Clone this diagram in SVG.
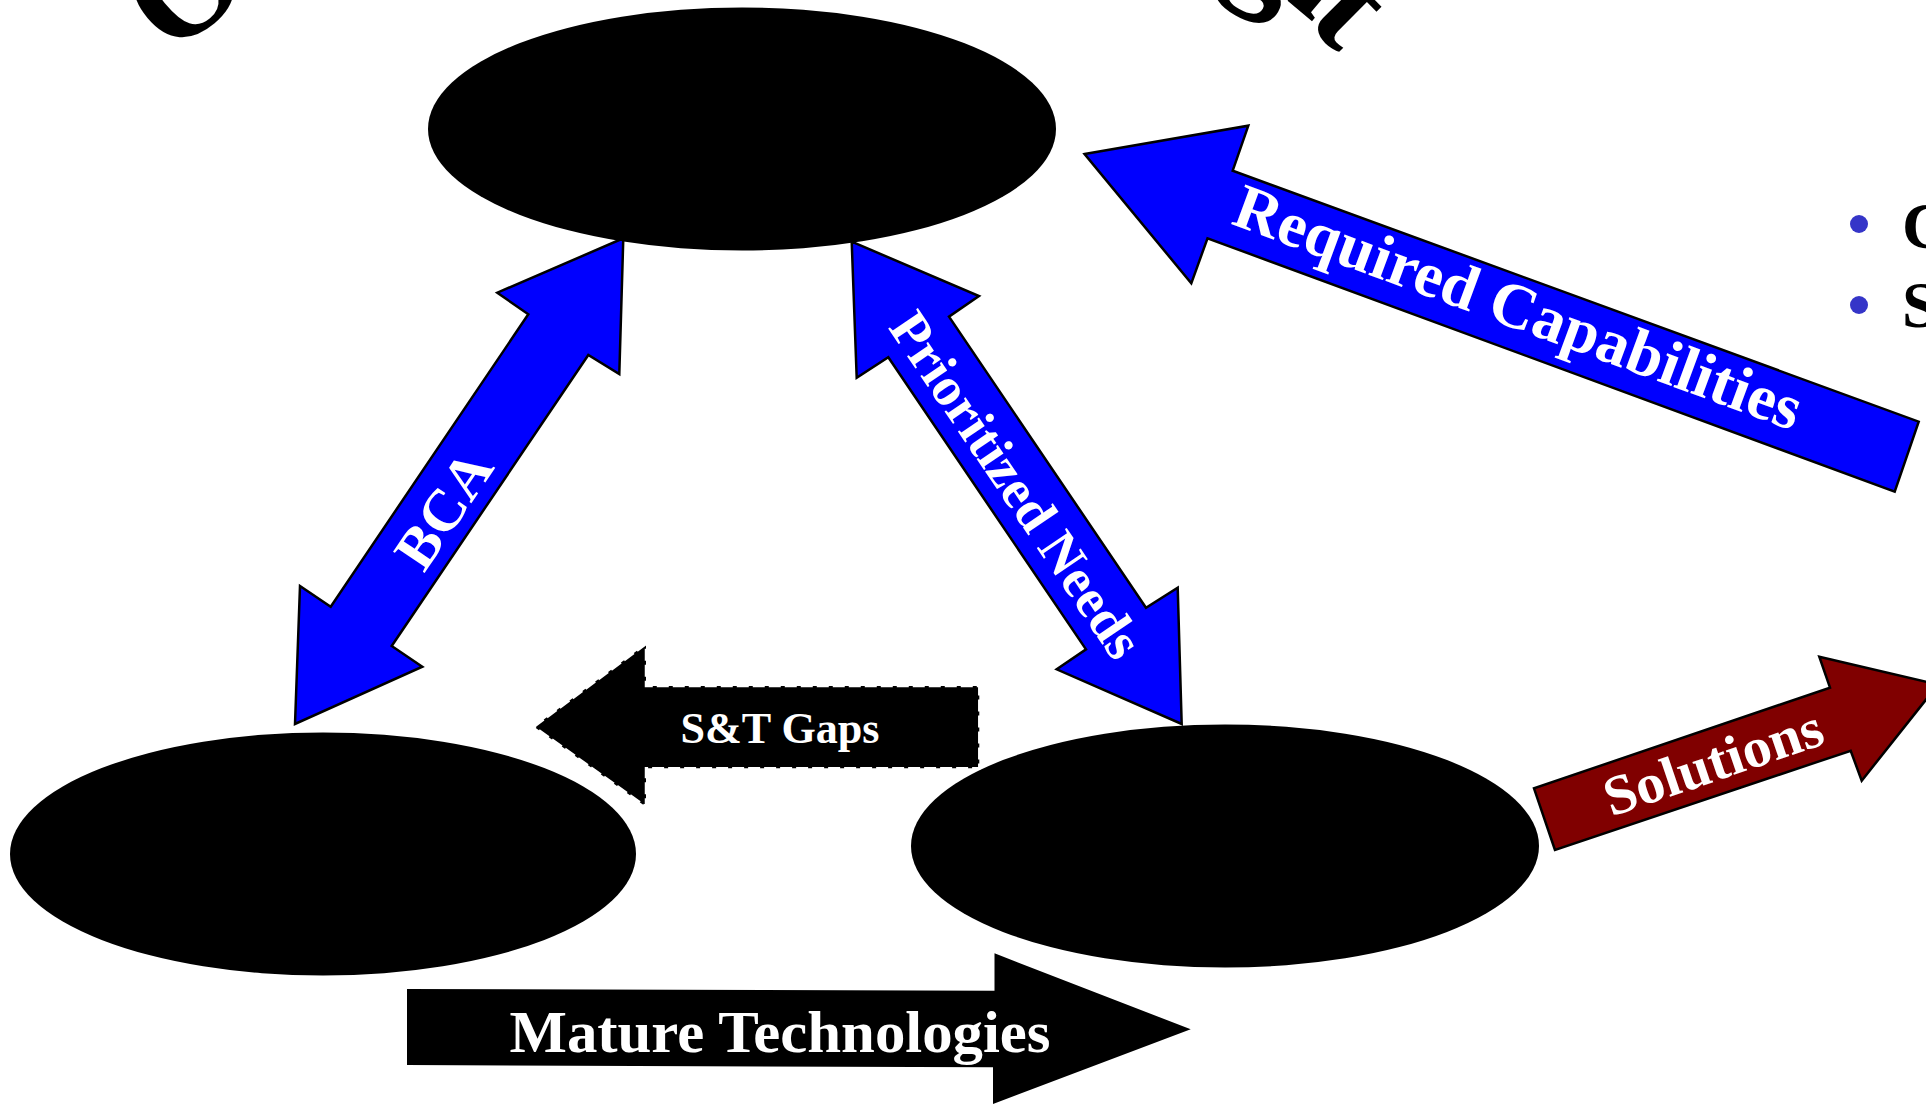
<svg xmlns="http://www.w3.org/2000/svg" width="1926" height="1110" viewBox="0 0 1926 1110">
  <style>
    .node { fill: #000000; }
    .blue { fill: #0000ff; stroke: #000000; stroke-width: 2.5; stroke-linejoin: miter; }
    .red { fill: #800000; stroke: #000000; stroke-width: 2.5; }
    .gap { fill: #000000; stroke: #ffffff; stroke-width: 2.5; stroke-dasharray: 12 4; }
    .solid { fill: #000000; }
    .lbl { font-family: "Liberation Serif", "Times New Roman", serif; font-weight: bold; fill: #ffffff; text-anchor: middle; }
    .title { font-family: "Liberation Serif", "Times New Roman", serif; font-weight: bold; fill: #000000; }
    .bullet { fill: #3535c8; }
  </style>

  <rect width="1926" height="1110" fill="#ffffff"/>

  <!-- arched heading, only the lower edge of its end letters falls inside the page -->
  <g id="heading">
    <text class="title" font-size="140" text-anchor="middle" transform="translate(182,-15) rotate(-40)" y="49">O</text>
    <text class="title" font-size="140" transform="translate(1222,-28) rotate(30)">g</text>
    <text class="title" font-size="140" transform="translate(1254,-27.5) rotate(40)">h</text>
    <text class="title" font-size="140" text-anchor="end" transform="translate(1338,54) rotate(45)">t</text>
  </g>

  <!-- side bullets, clipped by the right edge -->
  <g id="bullets">
    <circle class="bullet" cx="1859" cy="224" r="9"/>
    <text class="title" font-size="65" x="1902" y="248">C</text>
    <circle class="bullet" cx="1859" cy="305" r="9"/>
    <text class="title" font-size="65" x="1902" y="327">S</text>
  </g>

  <!-- nodes -->
  <g id="node-top">
    <ellipse class="node" cx="742" cy="129" rx="314" ry="121.5"/>
  </g>
  <g id="node-left">
    <ellipse class="node" cx="323" cy="854" rx="313" ry="121.5"/>
  </g>
  <g id="node-right">
    <ellipse class="node" cx="1225" cy="846" rx="314" ry="121.5"/>
  </g>

  <!-- connectors -->
  <g id="connectors">
    <g id="bca">
      <polygon class="blue" points="623.3,238.3 619.3,374 588.3,355 391.7,646 422.3,666.7 295,724 300,586 330.7,606.7 528.3,314.3 497.3,292.7"/>
      <text class="lbl" font-size="58" textLength="128" lengthAdjust="spacingAndGlyphs" transform="translate(444,510) rotate(-56)" y="19">BCA</text>
    </g>
    <g id="prioritized-needs">
      <polygon class="blue" points="851.7,241.7 979,296 949,316.7 1146,607.7 1177.7,587.7 1181.7,724 1056.7,669.3 1086,649.3 888.3,357.3 856.7,377.7"/>
      <text class="lbl" font-size="55" textLength="405" lengthAdjust="spacingAndGlyphs" transform="translate(1016,485) rotate(55.9)" y="18">Prioritized Needs</text>
    </g>
    <g id="required-capabilities">
      <polygon class="blue" points="1084.6,154 1248.3,125.7 1232.7,170.7 1918.7,421.7 1894.7,491.7 1207.5,238.3 1191.3,283.3"/>
      <text class="lbl" font-size="64" textLength="600" lengthAdjust="spacingAndGlyphs" transform="translate(1518.5,307.5) rotate(20.2)" y="21">Required Capabilities</text>
    </g>
    <g id="st-gaps">
      <polygon class="gap" points="534,726.7 646,644 646,686 979.3,686 979.3,768.3 646,768.3 646,806.7"/>
      <text class="lbl" font-size="44" textLength="199" lengthAdjust="spacingAndGlyphs" x="780" y="743">S&amp;T Gaps</text>
    </g>
    <g id="solutions">
      <polygon class="red" points="1555,850 1534,788.3 1830,687.7 1819.3,656.7 1938,684.5 1861.7,780.7 1850.7,750.7"/>
      <text class="lbl" font-size="56" textLength="228" lengthAdjust="spacingAndGlyphs" transform="translate(1713,762) rotate(-18.8)" y="19">Solutions</text>
    </g>
    <g id="mature-technologies">
      <polygon class="solid" points="407,989 994.5,990.7 994.5,953.3 1190.7,1029.3 993,1104 993,1067.3 407,1065"/>
      <text class="lbl" font-size="60" textLength="541" lengthAdjust="spacingAndGlyphs" x="780" y="1051.7">Mature Technologies</text>
    </g>
  </g>
</svg>
